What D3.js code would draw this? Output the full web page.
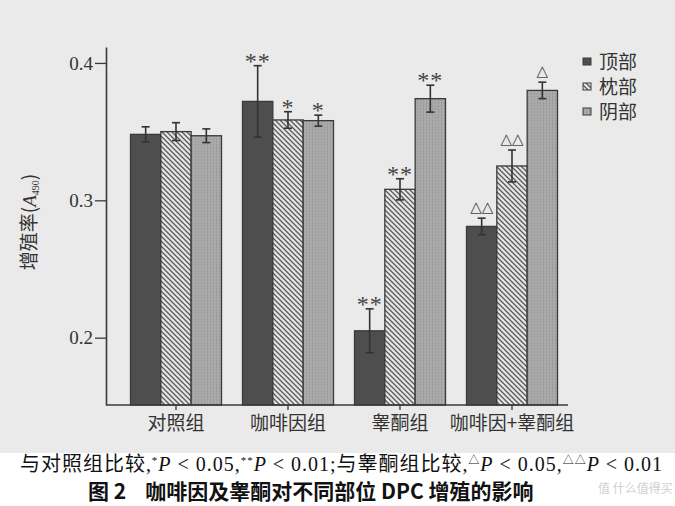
<!DOCTYPE html>
<html><head><meta charset="utf-8">
<script src="https://cdn.jsdelivr.net/npm/d3@7/dist/d3.min.js"></script>
<style>body{margin:0;background:#fff}svg{display:block}</style>
</head><body><svg id="c" width="675" height="506"></svg>
<script>
const groups = ["对照组","咖啡因组","睾酮组","咖啡因+睾酮组"];
const series = ["顶部","枕部","阴部"];
const valTop = [0.348, 0.372, 0.205, 0.281];
const valOcc = [0.350, 0.3585, 0.308, 0.325];
const valPub = [0.347, 0.358, 0.374, 0.380];
const errTop = [0.0055, 0.026, 0.016, 0.006];
const errOcc = [0.0065, 0.006, 0.0077, 0.0116];
const errPub = [0.005, 0.004, 0.0098, 0.006];
const markTop = ["", "**", "**", "△△"];
const markOcc = ["", "*", "**", "△△"];
const markPub = ["", "*", "**", "△"];
const yTicks = [0.2, 0.3, 0.4];

const svg = d3.select("#c");
svg.append("rect").attr("width",675).attr("height",453).attr("fill","#eaeaea");

const defs = svg.append("defs");
const ph = defs.append("pattern").attr("id","hatch").attr("patternUnits","userSpaceOnUse")
  .attr("width",5).attr("height",5);
ph.append("rect").attr("width",5).attr("height",5).attr("fill","#e6e6e6");
ph.append("path").attr("d","M-1,-1 L6,6 M-1,4 L1,6 M4,-1 L6,1").attr("stroke","#5a5a5a").attr("stroke-width",1.3);
const pg = defs.append("pattern").attr("id","stip").attr("patternUnits","userSpaceOnUse")
  .attr("width",3).attr("height",3);
pg.append("rect").attr("width",3).attr("height",3).attr("fill","#aaaaaa");
pg.append("rect").attr("width",1).attr("height",2).attr("fill","#999");

const fills = ["#4e4e4e","url(#hatch)","url(#stip)"];
const vals = [valTop, valOcc, valPub];
const errs = [errTop, errOcc, errPub];
const marks = [markTop, markOcc, markPub];

const y = d3.scaleLinear().domain([0.151, 0.4116]).range([405, 47]);
const x = d3.scaleBand().domain(groups).range([120, 568]).paddingInner(0.1875).paddingOuter(0.09375);
const xs = d3.scaleBand().domain(series).range([0, x.bandwidth()]);

const axisColor = "#3a3a3a";
const txt = "#333";

series.forEach((s, si) => {
  const g = svg.append("g");
  groups.forEach((gr, gi) => {
    const v = vals[si][gi], e = errs[si][gi];
    const bx = x(gr) + xs(s), bw = xs.bandwidth();
    g.append("rect").attr("x", bx).attr("y", y(v)).attr("width", bw).attr("height", y(0.151) - y(v))
      .attr("fill", fills[si]).attr("stroke", "#3a3a3a").attr("stroke-width", 1.3);
    const cx = bx + bw/2;
    g.append("line").attr("x1",cx).attr("x2",cx).attr("y1",y(v+e)).attr("y2",y(v-e)).attr("stroke","#333").attr("stroke-width",1.6);
    [v+e, v-e].forEach(t => g.append("line").attr("x1",cx-4).attr("x2",cx+4).attr("y1",y(t)).attr("y2",y(t)).attr("stroke","#333").attr("stroke-width",1.6));
    const m = marks[si][gi];
    if (m) {
      const isStar = m.indexOf("*") >= 0;
      g.append("text").attr("x", cx).attr("y", y(v+e) - (isStar ? -3 : 6))
        .attr("text-anchor","middle").attr("fill","#444")
        .style("font-family", isStar ? "Liberation Serif" : "DejaVu Sans")
        .style("font-size", isStar ? "24px" : "15px")
        .style("letter-spacing", isStar ? "1px" : "0px")
        .text(m);
    }
  });
});

const ya = svg.append("g").attr("transform","translate(106,0)")
  .call(d3.axisLeft(y).tickValues(yTicks).tickSize(11).tickSizeOuter(0).tickFormat(d3.format(".1f")));
ya.select(".domain").attr("stroke", axisColor).attr("stroke-width",1.6);
ya.selectAll(".tick line").attr("stroke", axisColor).attr("stroke-width",1.3);
ya.selectAll(".tick text").attr("fill", txt).attr("x",-13).style("font-family","Liberation Serif").style("font-size","19px");

const xa = svg.append("g").attr("transform","translate(0,405)")
  .call(d3.axisBottom(x).tickSize(5).tickSizeOuter(0));
xa.select(".domain").remove();
xa.append("line").attr("x1",106).attr("x2",568).attr("stroke",axisColor).attr("stroke-width",1.6);
xa.selectAll(".tick line").attr("stroke", axisColor).attr("stroke-width",1.3);
xa.selectAll(".tick text").attr("fill", txt).attr("y",12).style("font-family","Noto Sans CJK SC").style("font-size","19px");

const yl = svg.append("text").attr("transform","translate(36,222) rotate(-90)").attr("text-anchor","middle")
  .attr("fill", txt).style("font-family","Noto Sans CJK SC").style("font-size","19px");
yl.append("tspan").text("增殖率(");
yl.append("tspan").text("A").style("font-family","Liberation Serif").style("font-style","italic").style("font-size","19px");
yl.append("tspan").text("490").style("font-size","10px").attr("dy",3).style("font-family","Liberation Serif");
yl.append("tspan").text(")").attr("dy",-3);

const lg = svg.append("g").attr("transform","translate(583,0)");
series.forEach((s, si) => {
  const ly = 62 + si*25;
  lg.append("rect").attr("x",0).attr("y",ly-4).attr("width",8).attr("height",7)
    .attr("fill", fills[si]).attr("stroke","#3a3a3a").attr("stroke-width",1);
  lg.append("text").attr("x",16).attr("y",ly+7).attr("fill",txt)
    .style("font-family","Noto Sans CJK SC").style("font-size","19px").text(s);
});

const c1 = svg.append("text").attr("x",20).attr("y",471).attr("fill","#111")
  .attr("textLength",642).attr("lengthAdjust","spacing")
  .style("font-family","Liberation Serif, Noto Sans CJK SC").style("font-size","20px");
const parts = [["与对照组比较,",0],["*",1],["P",2],[" < 0.05,",0],["**",1],["P",2],[" < 0.01;与睾酮组比较,",0],["△",1],["P",2],[" < 0.05,",0],["△△",1],["P",2],[" < 0.01",0]];
parts.forEach(([t,k]) => {
  const ts = c1.append("tspan").text(t);
  if (k===1) ts.style("font-size","11px").attr("baseline-shift","7px");
  if (k===2) ts.style("font-style","italic");
});
svg.append("text").attr("x",88).attr("y",499).attr("fill","#111")
  .style("font-family","Noto Sans CJK SC").style("font-weight","bold").style("font-size","21px")
  .attr("xml:space","preserve").text("图 2    咖啡因及睾酮对不同部位 DPC 增殖的影响");
svg.append("text").attr("x",598).attr("y",493).attr("fill","#d0d0d0")
  .style("font-family","Noto Sans CJK SC").style("font-size","12px").text("值 什么值得买");
</script></body></html>
